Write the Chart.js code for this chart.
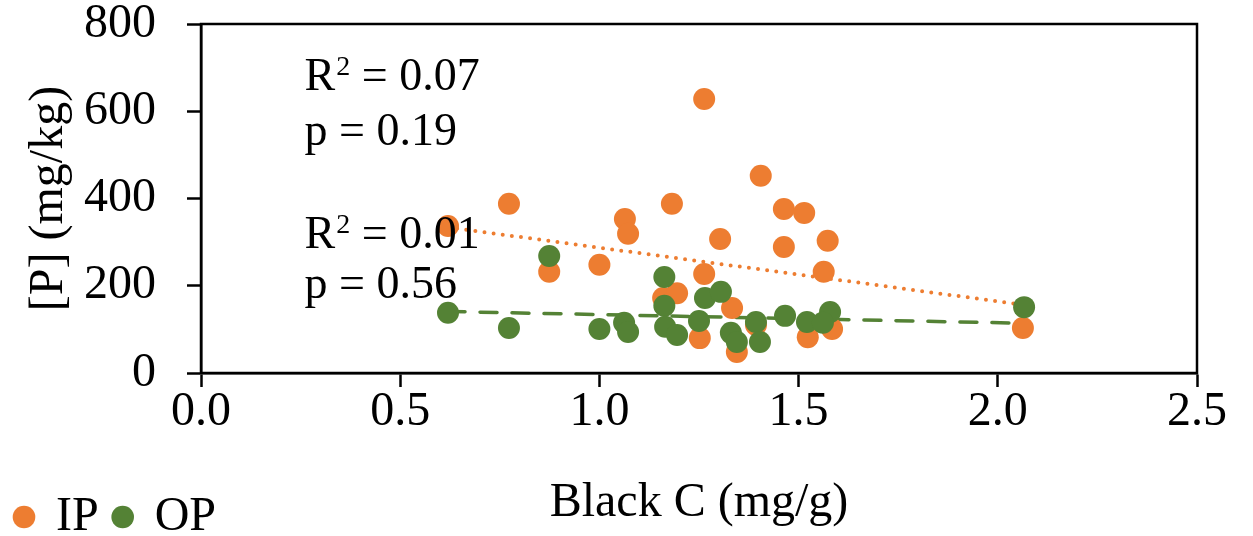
<!DOCTYPE html>
<html>
<head>
<meta charset="utf-8">
<script src="https://cdn.jsdelivr.net/npm/chart.js@4"></script>
<style>
  html, body { margin: 0; padding: 0; background: #fff; overflow: hidden; }
  #wrap { width: 1253px; height: 551px; }
</style>
</head>
<body>
<div id="wrap"><canvas id="bcChart"></canvas></div>
<script>
// black carbon (mg/g) vs phosphorus (mg/kg)
const ipBlackC = [0.62, 0.773, 0.874, 1.0, 1.064, 1.072, 1.16, 1.195, 1.182, 1.263, 1.303, 1.405, 1.463,
    1.514, 1.463, 1.573, 1.563, 1.263, 1.333, 1.252, 1.345, 1.523, 1.584, 2.063, 1.393];
const ipP = [337, 388, 232, 248, 353, 319, 172, 183, 388, 628, 307, 452, 376,
    367, 289, 303, 232, 227, 149, 80, 48, 82, 101, 103, 110];
const opBlackC = [0.62, 0.773, 0.874, 1.0, 1.062, 1.072, 1.163, 1.163, 1.165, 1.195, 1.25, 1.265, 1.305,
    1.33, 1.345, 1.393, 1.403, 1.466, 1.521, 1.579, 1.561, 2.066];
const opP = [138, 103, 268, 101, 115, 94, 220, 154, 106, 87, 119, 172, 186,
    92, 71, 117, 71, 131, 117, 140, 115, 151];

// linear fits, end points
const ipTrendX = [0.62, 2.066];
const ipTrendY = [334, 156];
const opTrendX = [0.62, 2.066];
const opTrendY = [141, 114];

const statText = ['R² = 0.07', 'p = 0.19', 'R² = 0.01', 'p = 0.56'];
const statX = 0.26;
const statY = [649, 523, 287, 172];

const serif = '"Liberation Serif", "Times New Roman", serif';
const orange = '#ED7D31';
const green = '#548235';

function toPoints(xs, ys) {
    return xs.map((x, i) => ({x: x, y: ys[i]}));
}

// box round the plot area
const framePlugin = {
    id: 'frame',
    afterDatasetsDraw(chart) {
        const {ctx, chartArea} = chart;
        ctx.save();
        ctx.strokeStyle = '#000';
        ctx.lineWidth = 2.5;
        ctx.strokeRect(chartArea.left, chartArea.top, chartArea.right - chartArea.left, chartArea.bottom - chartArea.top);
        ctx.restore();
    }
};

// R² / p text, the "2" drawn as a raised smaller digit
const statsPlugin = {
    id: 'stats',
    afterDatasetsDraw(chart) {
        const {ctx, scales} = chart;
        ctx.save();
        ctx.fillStyle = '#000';
        ctx.textBaseline = 'alphabetic';
        statText.forEach((t, i) => {
            let px = scales.x.getPixelForValue(statX);
            const py = scales.y.getPixelForValue(statY[i]);
            const parts = t.split('²');
            ctx.font = '46px ' + serif;
            ctx.fillText(parts[0], px, py);
            if (parts.length > 1) {
                px += ctx.measureText(parts[0]).width + 1;
                ctx.font = '28px ' + serif;
                ctx.fillText('2', px, py - 15);
                px += ctx.measureText('2').width;
                ctx.font = '46px ' + serif;
                ctx.fillText(parts[1], px, py);
            }
        });
        ctx.restore();
    }
};

const ctx = document.getElementById('bcChart').getContext('2d');
const bcChart = new Chart(ctx, {
    type: 'scatter',
    data: {
        datasets: [{
            label: 'IP',
            data: toPoints(ipBlackC, ipP),
            backgroundColor: orange,
            borderWidth: 0,
            pointRadius: 11,
            order: 1
        }, {
            label: 'OP',
            data: toPoints(opBlackC, opP),
            backgroundColor: green,
            borderWidth: 0,
            pointRadius: 11,
            order: 0
        }, {
            type: 'line',
            label: 'IP fit',
            data: toPoints(ipTrendX, ipTrendY),
            borderColor: orange,
            borderWidth: 4,
            borderDash: [0, 9.2],
            borderCapStyle: 'round',
            pointRadius: 0,
            fill: false,
            order: 2
        }, {
            type: 'line',
            label: 'OP fit',
            data: toPoints(opTrendX, opTrendY),
            borderColor: green,
            borderWidth: 3.5,
            borderDash: [17, 15],
            borderCapStyle: 'round',
            pointRadius: 0,
            fill: false,
            order: 2
        }]
    },
    options: {
        responsive: true,
        maintainAspectRatio: false,
        animation: false,
        layout: {
            padding: {top: 0, right: 56, bottom: 0, left: 0}
        },
        plugins: {
            tooltip: {enabled: false},
            legend: {
                position: 'bottom',
                align: 'start',
                labels: {
                    usePointStyle: true,
                    pointStyle: 'circle',
                    boxWidth: 16,
                    boxHeight: 16,
                    padding: 16,
                    color: '#000',
                    font: {family: serif, size: 48},
                    filter: (item) => item.datasetIndex < 2,
                    sort: (a, b) => a.datasetIndex - b.datasetIndex
                }
            }
        },
        scales: {
            x: {
                type: 'linear',
                min: 0,
                max: 2.5,
                afterFit: (s) => { s.height = 104; },
                ticks: {
                    stepSize: 0.5,
                    padding: 1,
                    color: '#000',
                    font: {family: serif, size: 48, lineHeight: 1},
                    callback: (v) => v.toFixed(1)
                },
                grid: {
                    drawOnChartArea: false,
                    drawTicks: true,
                    tickLength: 14,
                    tickWidth: 2.5,
                    tickColor: '#000'
                },
                border: {display: true, color: '#000', width: 2.5},
                title: {
                    display: true,
                    text: 'Black C (mg/g)',
                    color: '#000',
                    font: {family: serif, size: 48},
                    padding: {top: 0, bottom: -55}
                }
            },
            y: {
                type: 'linear',
                min: 0,
                max: 800,
                // keep the wide label gap from pushing the plot down
                afterFit: (s) => {
                    s.width = 201;
                    s.paddingTop = 24;
                    s.paddingBottom = 24;
                },
                ticks: {
                    stepSize: 200,
                    padding: 31,
                    color: '#000',
                    font: {family: serif, size: 48, lineHeight: 1}
                },
                grid: {
                    drawOnChartArea: false,
                    drawTicks: true,
                    tickLength: 14,
                    tickWidth: 2.5,
                    tickColor: '#000'
                },
                border: {display: true, color: '#000', width: 2.5},
                title: {
                    display: true,
                    text: '[P] (mg/kg)',
                    color: '#000',
                    font: {family: serif, size: 48},
                    padding: {top: 21, bottom: 5}
                }
            }
        }
    },
    plugins: [framePlugin, statsPlugin]
});
</script>
</body>
</html>
